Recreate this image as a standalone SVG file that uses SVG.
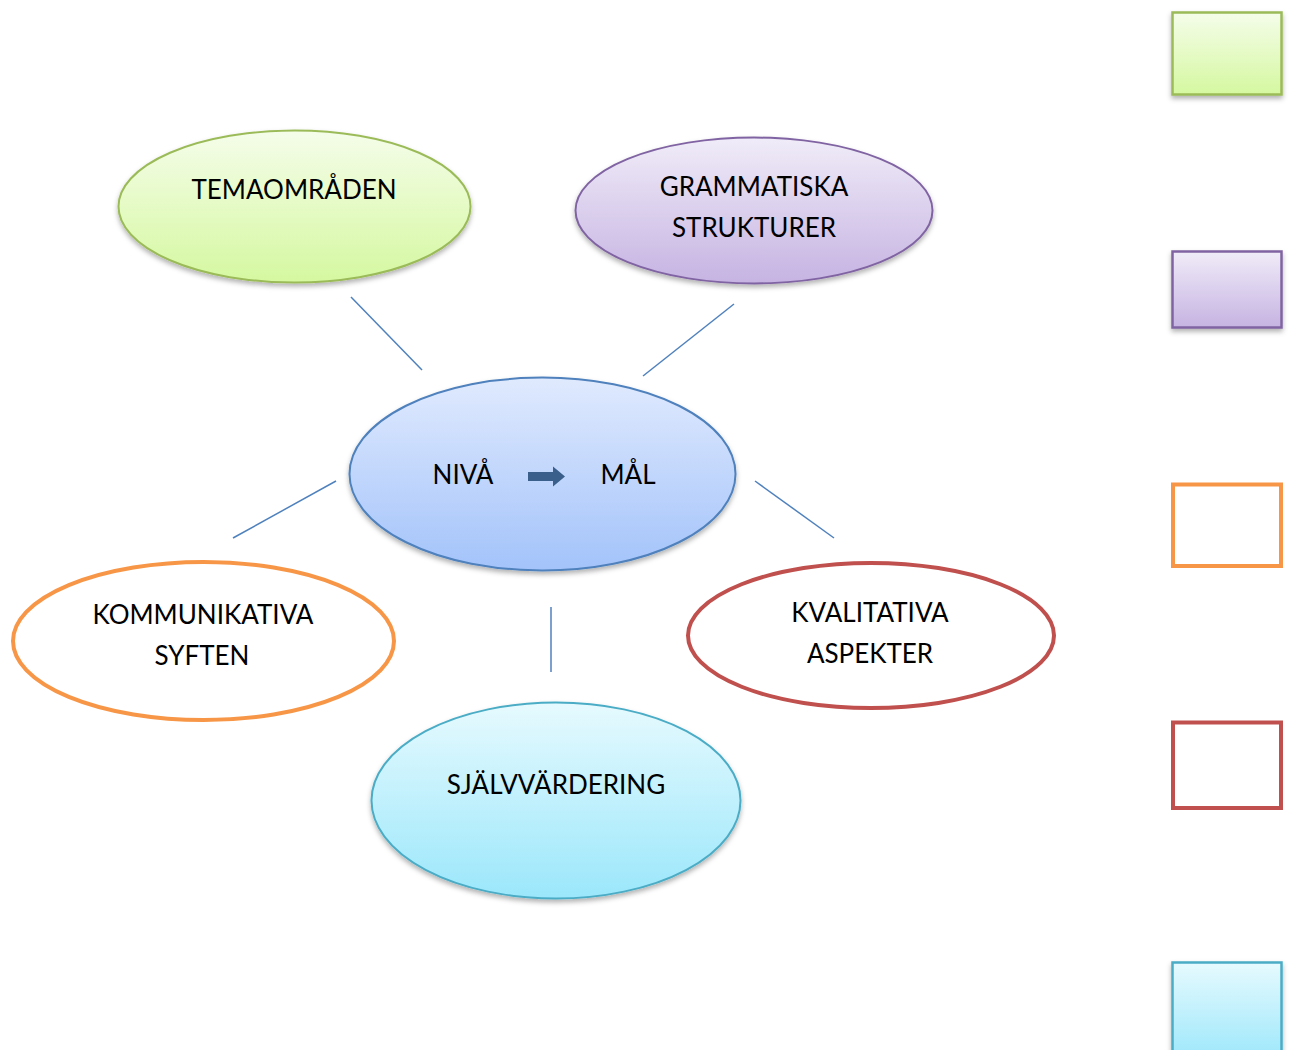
<svg xmlns="http://www.w3.org/2000/svg" width="1294" height="1050" viewBox="0 0 1294 1050">
<style>
text{font-family:"Lato","Open Sans","Liberation Sans",sans-serif;font-size:26px;fill:#000;text-anchor:middle}
.conn line{stroke:#4F81BD;stroke-width:1.5}
</style>
<defs>
<linearGradient id="gG" x1="0" y1="0" x2="0" y2="1"><stop offset="0" stop-color="#F5FDEA"/><stop offset="1" stop-color="#D5F8A0"/></linearGradient>
<linearGradient id="gP" x1="0" y1="0" x2="0" y2="1"><stop offset="0" stop-color="#F0ECF8"/><stop offset="1" stop-color="#C6B3E2"/></linearGradient>
<linearGradient id="gB" x1="0" y1="0" x2="0" y2="1"><stop offset="0" stop-color="#E0EAFE"/><stop offset="1" stop-color="#A3C3FA"/></linearGradient>
<linearGradient id="gC" x1="0" y1="0" x2="0" y2="1"><stop offset="0" stop-color="#E6FAFE"/><stop offset="1" stop-color="#9BE7FB"/></linearGradient>
<filter id="sh" x="-10%" y="-10%" width="120%" height="130%"><feDropShadow dx="0" dy="3" stdDeviation="2.5" flood-color="#000" flood-opacity="0.3"/></filter>
</defs>
<g id="connectors" class="conn">
<line x1="351" y1="297" x2="422" y2="370"/>
<line x1="734" y1="304" x2="643" y2="376"/>
<line x1="336" y1="481" x2="233" y2="538"/>
<line x1="755" y1="481" x2="834" y2="538"/>
<line x1="551" y1="607" x2="551" y2="672"/>
</g>
<g id="temaomraden">
<ellipse cx="294.5" cy="206.5" rx="176" ry="76" fill="url(#gG)" stroke="#9BBB59" stroke-width="2" filter="url(#sh)"/>
<text x="294" y="199">TEMAOMRÅDEN</text>
</g>
<g id="grammatiska">
<ellipse cx="754" cy="210.5" rx="178.5" ry="73" fill="url(#gP)" stroke="#8064A2" stroke-width="2" filter="url(#sh)"/>
<text x="754" y="196">GRAMMATISKA</text>
<text x="754" y="237">STRUKTURER</text>
</g>
<g id="niva-mal">
<ellipse cx="542.5" cy="474" rx="193" ry="96.5" fill="url(#gB)" stroke="#4F81BD" stroke-width="2" filter="url(#sh)"/>
<text x="463" y="484">NIVÅ</text>
<text x="628" y="484">MÅL</text>
<polygon points="528,472 553,472 553,466.5 565,476.5 553,486.5 553,481 528,481" fill="#3A5F8A"/>
</g>
<g id="kommunikativa">
<ellipse cx="203.5" cy="641" rx="190.5" ry="79" fill="#fff" stroke="#F79646" stroke-width="4"/>
<text x="203" y="624">KOMMUNIKATIVA</text>
<text x="202" y="665">SYFTEN</text>
</g>
<g id="kvalitativa">
<ellipse cx="871" cy="635.5" rx="183" ry="72.5" fill="#fff" stroke="#C0504D" stroke-width="4"/>
<text x="870" y="622">KVALITATIVA</text>
<text x="870" y="663">ASPEKTER</text>
</g>
<g id="sjalvvardering">
<ellipse cx="556" cy="800.5" rx="184.5" ry="98" fill="url(#gC)" stroke="#4BACC6" stroke-width="2" filter="url(#sh)"/>
<text x="556" y="794">SJÄLVVÄRDERING</text>
</g>
<g id="legend-green"><rect x="1172.5" y="12.5" width="109" height="82" fill="url(#gG)" stroke="#9BBB59" stroke-width="2.5" filter="url(#sh)"/></g>
<g id="legend-purple"><rect x="1172.5" y="251.5" width="109" height="76" fill="url(#gP)" stroke="#8064A2" stroke-width="2.5" filter="url(#sh)"/></g>
<g id="legend-orange"><rect x="1173" y="484.5" width="108" height="81.5" fill="#fff" stroke="#F79646" stroke-width="4"/></g>
<g id="legend-red"><rect x="1173" y="722.5" width="108" height="85.5" fill="#fff" stroke="#C0504D" stroke-width="4"/></g>
<g id="legend-cyan"><rect x="1172.5" y="962.5" width="109" height="100" fill="url(#gC)" stroke="#4BACC6" stroke-width="2.5" filter="url(#sh)"/></g>
</svg>
